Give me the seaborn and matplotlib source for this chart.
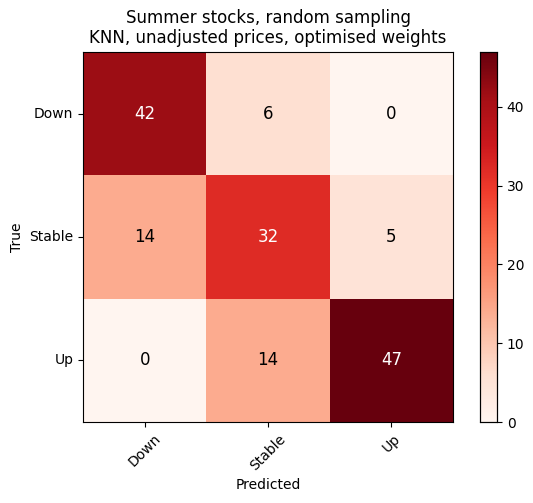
import matplotlib
matplotlib.use("Agg")
import matplotlib.pyplot as plt
import seaborn as sns
import numpy as np
import pandas as pd

labels = ["Down", "Stable", "Up"]
row_down = [42, 6, 0]
row_stable = [14, 32, 5]
row_up = [0, 14, 47]

cm = pd.DataFrame([row_down, row_stable, row_up], index=labels, columns=labels)

fig = plt.figure(figsize=(5.33, 5.03), dpi=100)
ax = fig.add_axes([0.156, 0.161, 0.694, 0.736])
cax = fig.add_axes([0.9006, 0.161, 0.032, 0.736])

sns.heatmap(cm, cmap="Reds", ax=ax, cbar_ax=cax, annot=False, vmin=0, vmax=47)

vals = cm.values
thresh = (vals.max() + vals.min()) / 2.0
for i in range(vals.shape[0]):
    for j in range(vals.shape[1]):
        ax.text(j + 0.5, i + 0.5, str(vals[i, j]), ha="center", va="center",
                fontsize=12, color="white" if vals[i, j] > thresh else "black")

for s in ax.spines.values():
    s.set_visible(True)
    s.set_linewidth(0.8)
cax.set_frame_on(True)
for s in cax.spines.values():
    s.set_visible(True)
    s.set_linewidth(0.8)
cax.set_yticks([0, 10, 20, 30, 40])
cax.tick_params(labelsize=10)

ax.set_xticklabels(labels, rotation=45, ha="center", fontsize=10)
ax.set_yticklabels(labels, rotation=0, fontsize=10)
ax.tick_params(axis="both", length=3.5, width=0.8)
ax.set_xlabel("Predicted", fontsize=10)
ax.set_ylabel("True", fontsize=10)
ax.set_title("Summer stocks, random sampling\nKNN, unadjusted prices, optimised weights", fontsize=12)

fig.savefig("out.png", dpi=100)
